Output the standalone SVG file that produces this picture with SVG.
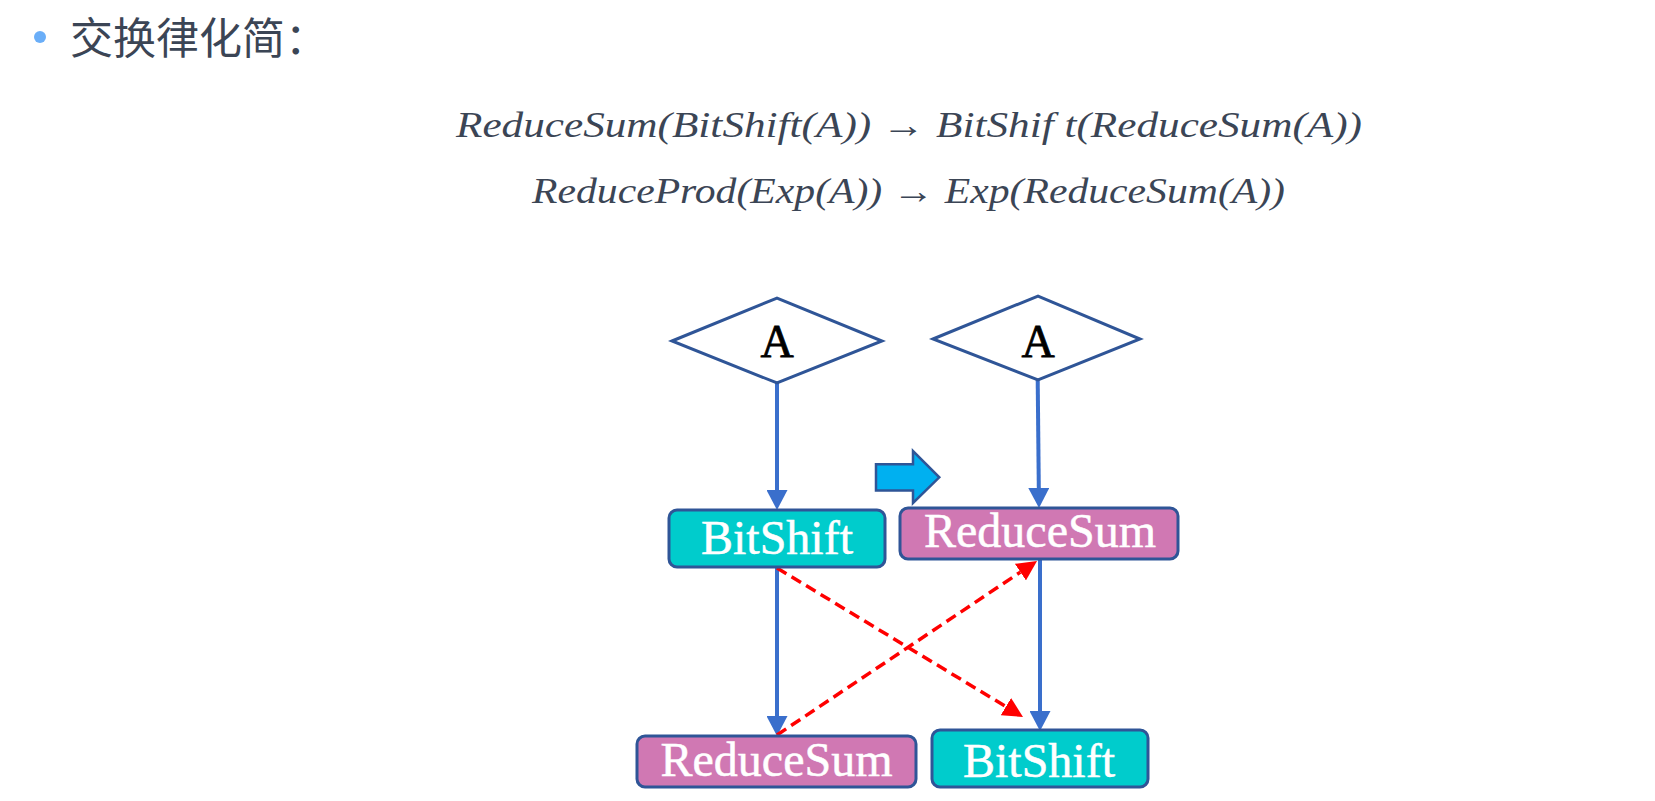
<svg xmlns="http://www.w3.org/2000/svg" width="1655" height="801" viewBox="0 0 1655 801">
<defs>
<style>
.title{font-family:"Noto Sans CJK SC","Noto Sans",sans-serif;font-size:43px;fill:#3b4555}
.math{font-family:"Liberation Serif",serif;font-style:italic;font-size:36px;fill:#3b4555}
.dia{fill:#ffffff;stroke:#2f5597;stroke-width:3}
.dlab{font-family:"Liberation Serif",serif;font-size:46px;fill:#000000;stroke:#000000;stroke-width:0.8;text-anchor:middle}
.box{stroke:#2f5597;stroke-width:3}
.cyan{fill:#00cccc}
.pink{fill:#d078b3}
.blab{font-family:"Liberation Serif",serif;font-size:48px;fill:#ffffff;stroke:#ffffff;stroke-width:0.5;text-anchor:middle}
.flow{fill:none;stroke:#3a6fcc;stroke-width:4}
.swap{fill:none;stroke:#ff0000;stroke-width:3.5;stroke-dasharray:11 6}
</style>
<marker id="hb" markerUnits="userSpaceOnUse" markerWidth="20" markerHeight="21" viewBox="0 0 20 21" refX="0" refY="10.5" orient="auto">
<path d="M0,0 L20,10.5 L0,21 z" fill="#3a6fcc"/>
</marker>
<marker id="hr" markerUnits="userSpaceOnUse" markerWidth="20" markerHeight="20" viewBox="0 0 20 20" refX="0" refY="10" orient="auto">
<path d="M0,0 L20,10 L0,20 z" fill="#ff0000"/>
</marker>
</defs>
<rect width="1655" height="801" fill="#ffffff"/>
<g id="title">
<circle cx="40" cy="37" r="6" fill="#6aaef8"/>
<text class="title" x="70" y="54">交换律化简：</text>
</g>
<g id="formulas">
<text class="math" x="456" y="137" textLength="906" lengthAdjust="spacingAndGlyphs">ReduceSum(BitShift(A)) → BitShif t(ReduceSum(A))</text>
<text class="math" x="532" y="203" textLength="753" lengthAdjust="spacingAndGlyphs">ReduceProd(Exp(A)) → Exp(ReduceSum(A))</text>
</g>
<g id="connectors">
<path class="flow" d="M777,383 L777,490" marker-end="url(#hb)"/>
<path class="flow" d="M1037.7,380 L1038.8,488" marker-end="url(#hb)"/>
<path class="flow" d="M777,567 L777,716" marker-end="url(#hb)"/>
<path class="flow" d="M1040,559 L1040,711" marker-end="url(#hb)"/>
<path class="swap" d="M777,568 L1005.9,706.6" marker-end="url(#hr)"/>
<path class="swap" d="M777,735 L1020.4,572.1" marker-end="url(#hr)"/>
</g>
<g id="nodeA1">
<polygon class="dia" points="672,341 777,298 882,341 777,383"/>
<text class="dlab" x="777" y="357">A</text>
</g>
<g id="nodeA2">
<polygon class="dia" points="933,339 1038,296 1140,339 1038,380"/>
<text class="dlab" x="1038" y="357">A</text>
</g>
<g id="transform-arrow">
<polygon points="876,464.3 913,464.3 913,451 939.3,477.3 913,503 913,490.5 876,490.5" fill="#00b0f0" stroke="#2f5597" stroke-width="2.5"/>
</g>
<g id="bitshift1">
<rect class="box cyan" x="669" y="510" width="216" height="57" rx="8"/>
<text class="blab" x="777" y="554">BitShift</text>
</g>
<g id="reducesum1">
<rect class="box pink" x="637" y="736" width="279" height="51" rx="8"/>
<text class="blab" x="776.5" y="776">ReduceSum</text>
</g>
<g id="reducesum2">
<rect class="box pink" x="900" y="508" width="278" height="51" rx="8"/>
<text class="blab" x="1040" y="547">ReduceSum</text>
</g>
<g id="bitshift2">
<rect class="box cyan" x="932" y="730" width="216" height="57" rx="8"/>
<text class="blab" x="1039" y="777">BitShift</text>
</g>
</svg>
